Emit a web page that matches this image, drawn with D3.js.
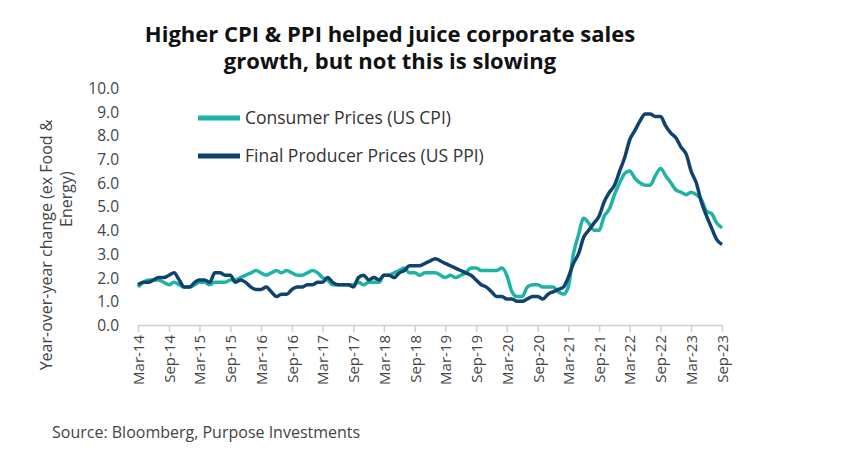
<!DOCTYPE html><html><head><meta charset="utf-8">
<script src="https://cdn.jsdelivr.net/npm/d3@7"></script>
<style>body{margin:0;background:#fff}text{font-family:"Open Sans",sans-serif}</style></head><body>
<svg id="c" width="859" height="455"></svg>
<script>
const tickLabels=["Mar-14","Sep-14","Mar-15","Sep-15","Mar-16","Sep-16","Mar-17","Sep-17","Mar-18","Sep-18","Mar-19","Sep-19","Mar-20","Sep-20","Mar-21","Sep-21","Mar-22","Sep-22","Mar-23","Sep-23"];
const yTicks=[0,1,2,3,4,5,6,7,8,9,10];
const cpi=[1.6,1.8,1.9,1.9,1.9,1.8,1.7,1.8,1.7,1.6,
1.6,1.7,1.8,1.8,1.7,1.8,1.8,1.8,1.9,1.9,2.0,2.1,
2.2,2.3,2.2,2.1,2.2,2.3,2.2,2.3,2.2,2.1,2.1,2.2,
2.3,2.2,2.0,1.9,1.7,1.7,1.7,1.7,1.7,1.8,1.7,1.8,
1.8,1.8,2.1,2.1,2.2,2.3,2.4,2.2,2.2,2.1,2.2,2.2,
2.2,2.1,2.0,2.1,2.0,2.1,2.2,2.4,2.4,2.3,2.3,2.3,
2.3,2.4,2.1,1.4,1.2,1.2,1.6,1.7,1.7,1.6,1.6,1.6,
1.4,1.3,1.6,3.0,3.8,4.5,4.3,4.0,4.0,4.6,4.9,5.5,
6.0,6.4,6.5,6.2,6.0,5.9,5.9,6.3,6.6,6.3,6.0,5.7,
5.6,5.5,5.6,5.5,5.3,4.8,4.7,4.3,4.1];
const ppi=[1.7,1.8,1.8,1.9,2.0,2.0,2.1,2.2,1.9,1.6,
1.6,1.8,1.9,1.9,1.8,2.2,2.2,2.1,2.1,1.8,1.9,1.8,
1.6,1.5,1.5,1.6,1.4,1.2,1.3,1.3,1.5,1.6,1.6,1.7,
1.7,1.8,1.8,2.0,1.8,1.7,1.7,1.7,1.6,2.0,2.1,1.9,
2.0,1.9,2.1,2.1,2.0,2.2,2.3,2.5,2.5,2.5,2.6,2.7,
2.8,2.7,2.6,2.5,2.4,2.3,2.2,2.1,1.9,1.7,1.6,1.4,
1.2,1.2,1.1,1.1,1.0,1.0,1.1,1.2,1.2,1.1,1.3,1.4,
1.5,1.6,2.0,2.6,3.0,3.7,4.0,4.3,4.6,5.2,5.6,5.9,
6.5,7.1,7.8,8.2,8.6,8.9,8.9,8.8,8.8,8.4,8.1,7.9,
7.5,7.2,6.5,6.0,5.2,4.6,4.1,3.6,3.4];
const months=d3.timeMonth.range(new Date(2014,2,1),new Date(2023,9,1));
const svg=d3.select("#c");
const x=d3.scaleTime().domain([new Date(2014,2,1),new Date(2023,8,1)]).range([138,722]);
const y=d3.scaleLinear().domain([0,10]).range([325,88]);
const parse=d3.timeParse("%b-%y"), fmt=d3.timeFormat("%b-%y");
const tickDates=tickLabels.map(parse);

svg.append("text").attr("x",390).attr("y",42).attr("text-anchor","middle").attr("font-size",22).attr("font-weight",700).attr("fill","#111").text("Higher CPI & PPI helped juice corporate sales");
svg.append("text").attr("x",390).attr("y",69).attr("text-anchor","middle").attr("font-size",22).attr("font-weight",700).attr("fill","#111").text("growth, but not this is slowing");

const yAx=svg.append("g").attr("transform","translate(122,0)").call(d3.axisLeft(y).tickValues(yTicks).tickFormat(d3.format(".1f")).tickSize(0));
yAx.select(".domain").remove();
yAx.selectAll("text").attr("font-size",15.5).attr("fill","#444").attr("font-family","Open Sans").attr("dy","0.35em");

const xAx=svg.append("g").attr("transform","translate(0,325)").call(d3.axisBottom(x).tickValues(tickDates).tickFormat(fmt).tickSize(7).tickSizeOuter(0));
xAx.select(".domain").attr("stroke","#d0d0d0").attr("stroke-width",1.5);
xAx.selectAll("line").attr("stroke","#d0d0d0").attr("stroke-width",1.5);
xAx.selectAll("text").attr("font-size",15).attr("fill","#444").attr("font-family","Open Sans")
  .attr("transform","rotate(-90)").attr("text-anchor","end").attr("x",-10).attr("y",0).attr("dy","0.35em");

svg.append("text").attr("transform","translate(52,245) rotate(-90)").attr("text-anchor","middle").attr("font-size",16).attr("fill","#444").text("Year-over-year change (ex Food &");
svg.append("text").attr("transform","translate(72,245) rotate(-90)").attr("text-anchor","start").attr("x",18).attr("font-size",16).attr("fill","#444").text("Energy)");

const line=d3.line().x((d,i)=>x(months[i])).y(d=>y(d)).curve(d3.curveMonotoneX);
svg.append("path").datum(cpi).attr("d",line).attr("fill","none").attr("stroke","#1db3a5").attr("stroke-width",3.5);
svg.append("path").datum(ppi).attr("d",line).attr("fill","none").attr("stroke","#10426e").attr("stroke-width",3.5);

const leg=[["Consumer Prices (US CPI)","#1db3a5",118],["Final Producer Prices (US PPI)","#10426e",156]];
leg.forEach(([t,c,yy])=>{
  svg.append("line").attr("x1",198).attr("x2",240).attr("y1",yy).attr("y2",yy).attr("stroke",c).attr("stroke-width",5);
  svg.append("text").attr("x",245).attr("y",yy).attr("dy","0.35em").attr("font-size",17.5).attr("fill","#333").text(t);
});
svg.append("text").attr("x",52).attr("y",438).attr("font-size",16).attr("fill","#444").text("Source: Bloomberg, Purpose Investments");
</script></body></html>
